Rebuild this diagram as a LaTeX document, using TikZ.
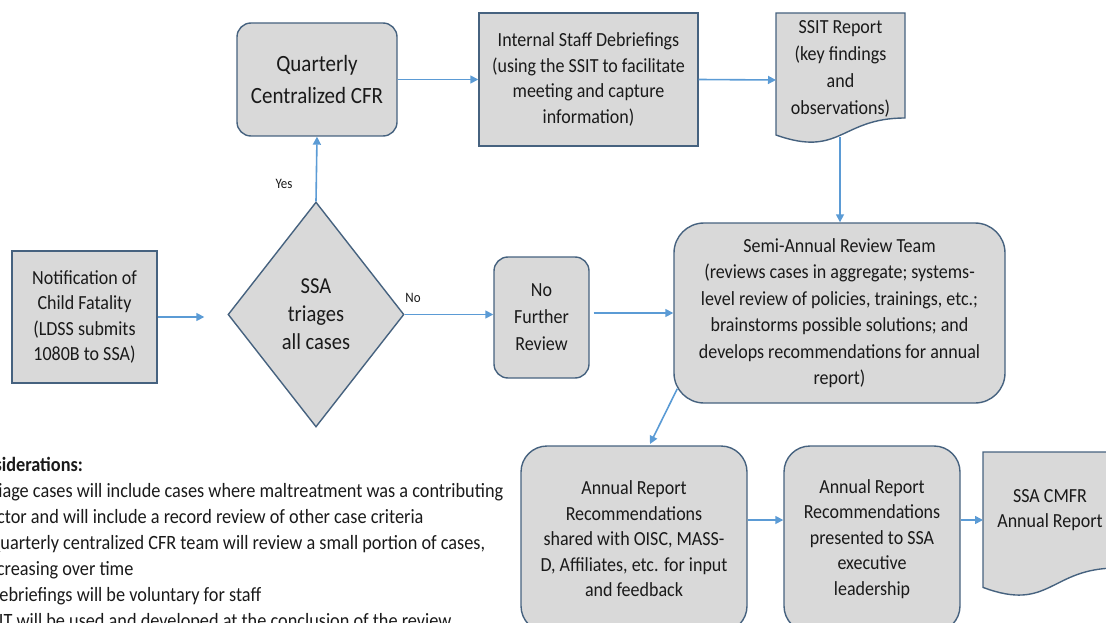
\documentclass[tikz,border=0pt]{standalone}
\usepackage{fontspec}
\setmainfont{Carlito}[FakeStretch=0.9]
\usetikzlibrary{shapes.geometric,arrows.meta,calc}
\definecolor{boxfill}{HTML}{D9D9D9}
\definecolor{boxdraw}{HTML}{46627F}
\definecolor{arrowc}{HTML}{5B9BD5}
\definecolor{txt}{HTML}{1A1A1A}
\begin{document}
\begin{tikzpicture}[x=1pt,y=-1pt,
  box/.style={draw=boxdraw, fill=boxfill, line width=1.4pt, align=center, inner sep=0pt, text=txt, font=\fontsize{20}{25.5}\selectfont},
  rbox/.style={box, rounded corners=14pt},
  docshape/.style={draw=boxdraw, fill=boxfill, line width=1.4pt},
  doctext/.style={align=center, inner sep=0pt, text=txt},
  conn/.style={draw=arrowc, line width=1.6pt, -{Triangle[length=8pt,width=8pt]}},
  lbl/.style={text=txt, font=\fontsize{14.4}{16}\selectfont, inner sep=0pt},
  note/.style={text=txt, font=\fontsize{20.3}{26}\selectfont, inner sep=0pt, anchor=base west},
]
\useasboundingbox (0,0) rectangle (1106,623);
\clip (0,0) rectangle (1106,623);

% top row
\node[rbox, minimum width=160pt, minimum height=113pt, font=\fontsize{23.3}{32}\selectfont] (quarterly) at (317,79.5) {Quarterly\\Centralized CFR};
\node[box, minimum width=219pt, minimum height=133pt] (internal) at (588.5,79.5) {Internal Staff Debriefings\\(using the SSIT to facilitate\\meeting and capture\\information)};
\draw[docshape] (776,13) -- (905,13) -- (905,118) .. controls (840.5,118) and (840.5,158) .. (776,135) -- cycle;
\node[doctext, font=\fontsize{20}{27}\selectfont] (ssit) at (840.5,69) {SSIT Report\\(key findings\\and\\observations)};
\coordinate (ssitW) at (776,80);
\coordinate (ssitS) at (840,137);

% middle row
\node[box, minimum width=145pt, minimum height=132pt] (notif) at (84.5,317) {Notification of\\Child Fatality\\(LDSS submits\\1080B to SSA)};
\node[diamond, draw=boxdraw, fill=boxfill, line width=1.4pt, aspect=0.78, minimum width=176pt, minimum height=225pt, inner sep=0pt, align=center, text=txt, font=\fontsize{22.8}{28}\selectfont] (triage) at (316,314.5) {SSA\\triages\\all cases};
\node[rbox, minimum width=95pt, minimum height=121pt, font=\fontsize{20}{27}\selectfont] (nfr) at (541.5,317.5) {No\\Further\\Review};
\node[box, rounded corners=30pt, minimum width=331pt, minimum height=180pt, font=\fontsize{20}{26.5}\selectfont] (semi) at (839.5,313) {Semi-Annual Review Team\\(reviews cases in aggregate; systems-\\level review of policies, trainings, etc.;\\brainstorms possible solutions; and\\develops recommendations for annual\\report)};

% bottom row
\node[box, rounded corners=26pt, minimum width=226pt, minimum height=186pt] (a1) at (634,539) {Annual Report\\Recommendations\\shared with OISC, MASS-\\D, Affiliates, etc. for input\\and feedback};
\node[box, rounded corners=26pt, minimum width=176pt, minimum height=186pt] (a2) at (872,539) {Annual Report\\Recommendations\\presented to SSA\\executive\\leadership};
\draw[docshape] (983,452) -- (1117,452) -- (1117,568) .. controls (1050,568) and (1050,612.5) .. (983,587.4) -- cycle;
\node[doctext, font=\fontsize{20}{25}\selectfont] (cmfr) at (1050,510) {SSA CMFR\\Annual Report};
\coordinate (cmfrW) at (983,520);
\coordinate (a1top) at (650,444);

% labels
\node[lbl] (yes) at (284,184) {Yes};
\node[lbl] (no) at (413,298) {No};

% connectors
\draw[conn, shorten >=23pt] (notif.east) -- (notif.east -| triage.west);
\draw[conn] (triage.north) -- (quarterly.south);
\draw[conn] (quarterly.east) -- (internal.west);
\draw[conn] (internal.east) -- (ssitW);
\draw[conn] (ssitS) -- (ssitS |- semi.north);
\draw[conn] (triage.east) -- (nfr.west |- triage.east);
\draw[conn, shorten <=4pt] (nfr.east |- semi.west) -- (semi.west);
\draw[conn] ($(semi.south west)+(4,-15)$) -- (a1top);
\draw[conn] ([yshift=19pt]a1.east) -- ([yshift=19pt]a2.west);
\draw[conn] ([yshift=19pt]a2.east) -- (cmfrW);

% considerations (cut off at the left and bottom edge)
\node[note, font=\bfseries\fontsize{20.3}{26}\selectfont] (nhead) at (-35,471) {Considerations:};
\node[note] (n1) at (-16,497) {Triage cases will include cases where maltreatment was a contributing};
\node[note] (n2) at (-17,523) {factor and will include a record review of other case criteria};
\node[note] (n3) at (-12,549) {Quarterly centralized CFR team will review a small portion of cases,};
\node[note] (n4) at (-17,575) {increasing over time};
\node[note] (n5) at (-12,601) {Debriefings will be voluntary for staff};
\node[note] (n6) at (-18,627) {SSIT will be used and developed at the conclusion of the review};
\end{tikzpicture}
\end{document}
